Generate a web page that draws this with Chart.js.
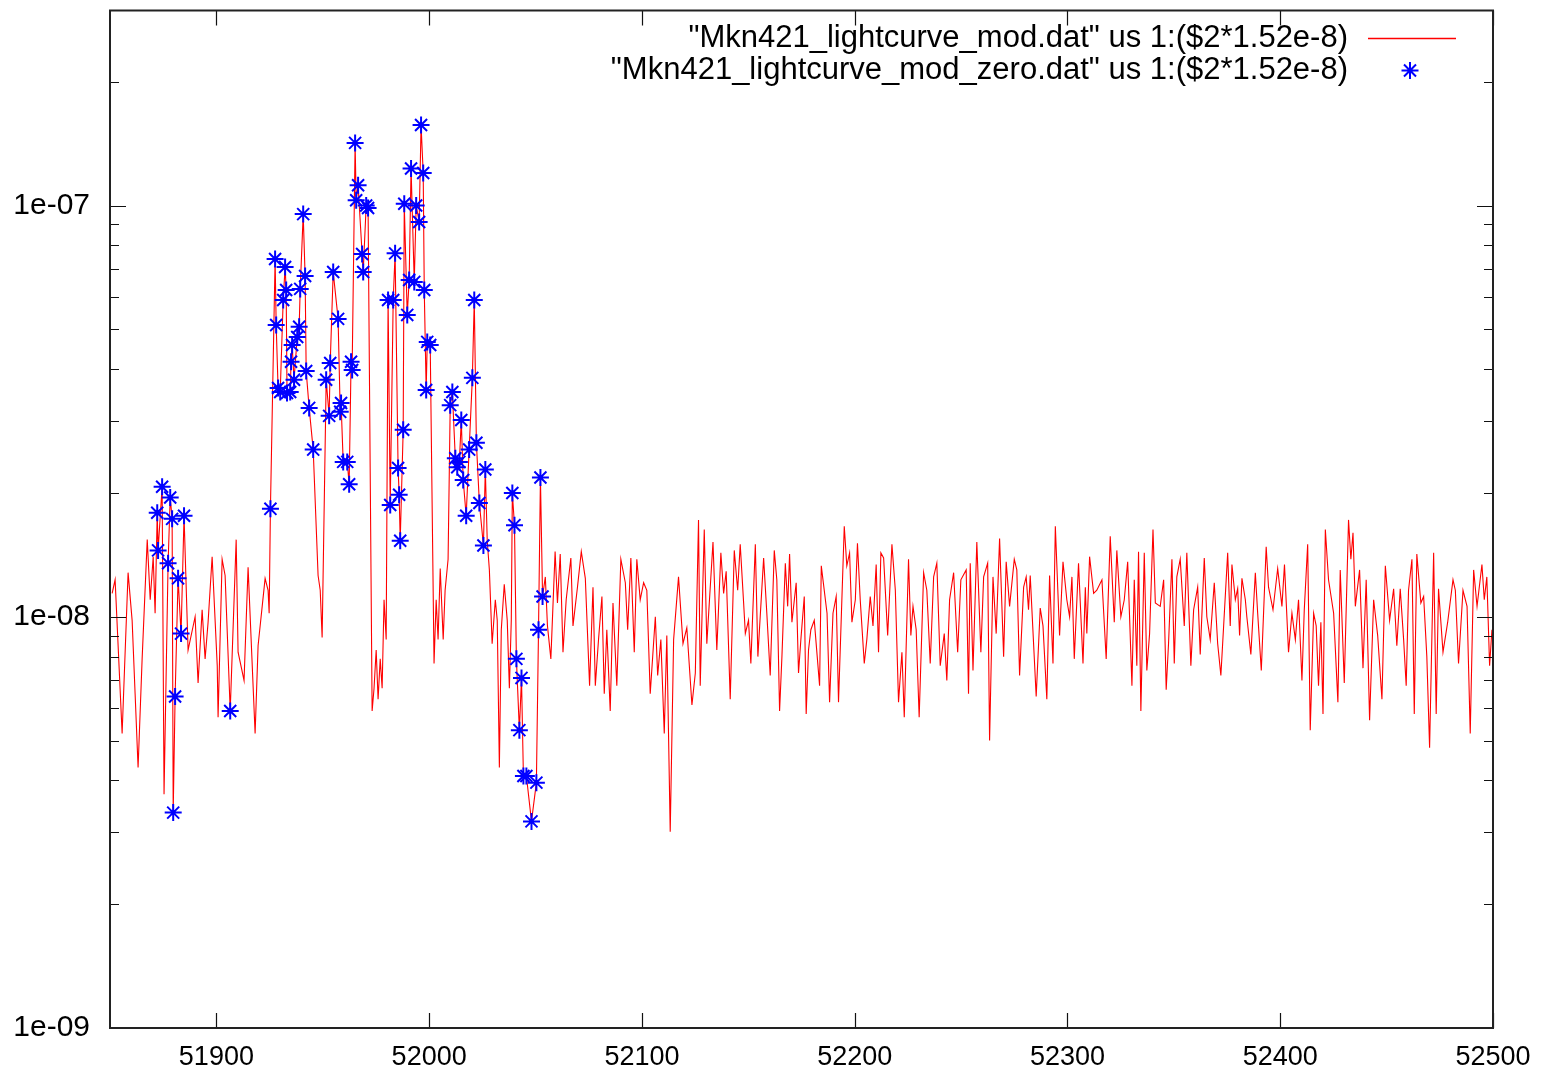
<!DOCTYPE html>
<html>
<head>
<meta charset="utf-8">
<script src="https://cdn.jsdelivr.net/npm/chart.js@4.4.1/dist/chart.umd.min.js"></script>
<style>
  html, body { margin: 0; padding: 0; background: #fff; }
</style>
</head>
<body>
<canvas id="lightcurve" width="1557" height="1077"></canvas>
<script>
// flux values are in units of 1e-8 (the plot is $2*1.52e-8)
const FLUX_UNIT = 1e-8;

// [MJD, flux] before the big flare
const curveEarly = [
  [51851.0,1.14],[51852.4,1.23],[51855.7,0.52],[51858.5,1.28],[51860.4,0.98],[51861.8,0.65],[51863.2,0.43],
  [51865.1,0.79],[51867.5,1.54],[51868.9,1.10],[51870.3,1.40],[51871.2,1.02],[51872.2,1.79],[51872.6,1.45],
  [51874.5,2.07],[51875.4,0.37],[51877.3,1.35],[51878.3,1.95],[51879.2,1.73],[51879.7,0.334],[51880.6,0.64],
  [51882.0,1.24],[51883.4,0.91],[51884.8,1.76],[51886.7,0.83],[51890.0,1.00],[51891.4,0.69],[51893.3,1.04],
  [51894.7,0.79],[51896.1,0.97],[51898.0,1.40],[51900.4,0.76],[51900.8,0.57],[51902.7,1.38],[51904.1,1.26],
  [51906.5,0.59],[51909.3,1.54],[51910.2,0.82],[51913.0,0.70],[51914.9,1.32],[51918.2,0.52],[51919.6,0.85],
  [51922.9,1.24],[51924.3,1.16],[51924.8,1.02]
];

// the flare itself
const curveFlare = [
  [51925.4,1.83],[51927.6,7.41],[51928.1,5.12],[51929.0,3.60],[51930.0,3.52],[51931.4,5.89],[51932.3,7.09],
  [51932.8,6.23],[51933.2,3.50],[51934.7,3.52],[51935.1,4.17],[51935.6,4.58],[51936.5,3.77],[51938.0,4.79],
  [51938.9,5.07],[51939.4,6.27],[51940.8,9.53],[51941.7,6.74],[51942.2,3.96],[51943.6,3.22],[51945.5,2.55],
  [51947.8,1.26],[51948.8,1.16],[51949.7,0.89],[51951.6,3.77],[51953.0,3.08],[51953.5,4.14],[51954.9,6.89],
  [51957.2,5.30],[51958.2,3.15],[51958.6,3.31],[51959.6,2.38],[51961.5,2.38],[51962.4,2.10],[51963.3,4.17],
  [51963.8,3.98],[51965.2,14.2],[51965.7,10.3],[51966.6,11.2],[51968.5,7.62],[51969.0,6.89],[51970.4,10.0],
  [51971.3,9.86],[51973.2,0.59],[51974.1,0.67],[51975.1,0.83],[51976.0,0.63],[51977.0,0.79],[51977.9,0.67],
  [51978.8,1.10],[51979.8,0.88],[51980.7,5.89],[51981.7,1.87],[51983.1,5.89],[51984.0,7.65],[51985.4,2.30],
  [51985.9,1.98],[51986.4,1.53],[51987.8,2.85],[51988.3,10.1],[51989.7,5.42],[51990.6,6.59],[51991.5,12.3],
  [51993.0,6.52],[51993.9,10.0],[51995.3,9.12],[51996.2,15.7],[51997.2,12.0],[51997.7,6.23],[51998.6,3.56],
  [51999.1,4.66],[52000.5,4.58],[52002.3,0.77],[52003.3,1.10],[52004.2,0.88],[52005.2,1.31],[52006.6,0.88],
  [52007.5,1.16],[52008.9,1.38],[52009.9,3.27],[52010.9,3.52],[52012.3,2.43],[52013.2,2.31],[52014.2,2.38],
  [52015.1,3.01],[52016.0,2.15],[52017.4,1.76],[52018.8,2.55],[52020.3,3.81],[52021.2,5.89],[52022.2,2.65],
  [52023.6,1.89],[52025.5,1.49],[52026.4,2.28],[52027.3,1.53],[52028.3,1.30],[52029.6,0.86],[52031.1,1.10],
  [52032.0,0.98],[52033.0,0.43],[52033.9,0.93],[52035.3,1.20],[52036.7,0.98],[52037.7,0.67],[52038.6,0.98],
  [52039.1,2.00],[52040.1,1.67],[52041.0,0.79],[52042.4,0.53],[52043.4,0.71],[52044.3,0.41],[52045.7,0.41],
  [52048.1,0.318],[52050.4,0.395],[52051.4,0.93],[52052.3,2.18],[52053.3,1.12]
];

// quiescent part after the flare
const curveQuiet = [
  [52054.6,1.25],[52055.6,0.95],[52057.2,0.79],[52059.2,1.44],[52060.3,1.08],[52061.6,1.42],[52062.9,0.82],
  [52064.4,1.10],[52066.6,1.39],[52067.6,0.95],[52069.7,1.18],[52071.5,1.44],[52073.4,1.24],[52075.4,0.68],
  [52077.0,1.18],[52078.1,0.68],[52079.6,0.88],[52081.2,1.12],[52082.3,0.65],[52083.5,0.93],[52085.1,0.59],
  [52086.4,1.08],[52088.2,0.68],[52090.1,1.38],[52092.2,1.21],[52093.3,0.93],[52094.8,1.39],[52096.4,0.82],
  [52097.6,1.38],[52099.2,1.10],[52100.8,1.21],[52102.3,1.16],[52103.9,0.65],[52106.3,1.00],[52107.4,0.72],
  [52108.9,0.88],[52110.5,0.52],[52111.7,0.90],[52113.3,0.30],[52114.9,0.88],[52117.2,1.25],[52119.3,0.86],
  [52121.1,0.94],[52123.5,0.61],[52125.1,0.73],[52126.6,1.72],[52127.4,0.68],[52129.3,1.63],[52130.5,0.86],
  [52133.4,1.52],[52135.2,0.83],[52137.1,1.43],[52138.4,1.14],[52139.6,1.29],[52141.5,0.63],[52143.4,1.45],
  [52145.0,1.16],[52146.2,1.50],[52147.8,1.08],[52148.6,0.91],[52150.1,0.98],[52151.2,0.77],[52153.3,1.50],
  [52154.5,0.80],[52157.2,1.39],[52158.7,1.02],[52160.3,0.72],[52162.2,1.45],[52163.4,1.23],[52164.7,0.59],
  [52165.8,0.80],[52167.4,1.35],[52168.5,1.06],[52169.4,1.42],[52170.5,0.97],[52172.5,1.21],[52173.6,0.73],
  [52174.7,0.88],[52176.3,1.12],[52177.2,0.58],[52178.3,0.83],[52179.4,0.93],[52181.0,0.98],[52183.5,0.68],
  [52184.3,1.33],[52187.0,1.02],[52188.2,0.62],[52189.8,1.02],[52191.3,1.12],[52192.4,0.62],[52195.1,1.66],
  [52196.3,1.33],[52197.6,1.43],[52198.7,0.97],[52200.3,1.10],[52201.3,1.51],[52202.6,1.10],[52204.5,0.77],
  [52205.7,0.88],[52207.3,1.12],[52208.6,0.95],[52210.1,1.34],[52211.2,0.82],[52212.3,1.43],[52213.6,1.39],
  [52215.5,0.90],[52217.5,1.50],[52219.1,1.16],[52220.6,0.62],[52222.2,0.82],[52223.3,0.57],[52225.3,1.38],
  [52226.4,0.90],[52227.4,1.06],[52228.9,0.93],[52230.3,0.57],[52232.4,1.28],[52233.9,1.16],[52235.5,0.77],
  [52237.1,1.25],[52238.6,1.35],[52240.2,0.76],[52242.1,0.91],[52243.3,0.70],[52244.6,1.10],[52246.5,1.28],
  [52248.4,0.82],[52249.9,1.23],[52252.4,1.30],[52253.5,0.65],[52254.3,1.35],[52255.6,0.74],[52257.4,1.52],
  [52259.3,0.82],[52260.6,1.25],[52262.5,1.35],[52263.4,0.50],[52265.0,1.25],[52266.5,0.91],[52268.1,1.55],
  [52270.0,0.80],[52271.2,1.36],[52272.8,1.06],[52275.0,1.38],[52276.2,1.30],[52277.5,0.72],[52279.4,1.18],
  [52280.6,1.25],[52281.7,1.04],[52282.5,1.26],[52285.3,0.64],[52287.2,1.05],[52288.5,0.95],[52290.3,0.63],
  [52291.6,1.26],[52293.2,0.77],[52294.3,1.66],[52296.3,0.90],[52297.9,1.36],[52299.7,1.10],[52301.0,1.00],
  [52302.1,1.25],[52303.2,0.79],[52305.2,1.35],[52307.3,0.77],[52308.4,1.18],[52309.1,0.91],[52310.4,1.40],
  [52312.3,1.14],[52313.8,1.16],[52316.2,1.23],[52318.2,0.79],[52320.1,1.57],[52322.0,0.97],[52323.2,1.45],
  [52325.1,1.00],[52326.7,1.10],[52328.3,1.36],[52330.3,0.68],[52331.4,1.23],[52332.6,0.76],[52333.4,1.44],
  [52334.5,0.59],[52336.1,1.43],[52337.3,0.74],[52338.6,0.91],[52340.2,1.63],[52341.3,1.08],[52343.6,1.06],
  [52345.2,1.23],[52346.4,0.665],[52347.5,0.86],[52349.1,1.38],[52350.2,0.77],[52351.4,1.25],[52353.0,1.38],
  [52354.9,0.95],[52356.1,1.43],[52358.0,0.76],[52359.3,1.04],[52361.2,1.18],[52362.4,0.81],[52364.3,1.39],
  [52365.5,1.00],[52367.1,0.88],[52369.0,1.21],[52370.6,0.86],[52372.1,0.72],[52373.4,0.95],[52375.3,1.43],
  [52376.5,0.95],[52377.3,1.34],[52378.9,1.10],[52380.0,1.17],[52380.9,0.90],[52382.0,1.24],[52383.6,1.10],
  [52384.3,1.00],[52386.2,0.81],[52388.3,1.28],[52389.4,1.02],[52391.1,0.74],[52393.4,1.48],[52394.5,1.18],
  [52396.6,1.04],[52398.8,1.31],[52400.8,1.06],[52402.0,1.34],[52403.9,0.82],[52405.5,1.02],[52407.1,0.88],
  [52408.6,1.10],[52410.2,0.70],[52411.3,1.04],[52412.9,1.50],[52414.1,0.53],[52415.7,1.02],[52416.9,0.95],
  [52418.0,0.68],[52419.1,0.97],[52420.1,0.58],[52421.2,1.63],[52422.7,1.23],[52425.1,1.02],[52427.1,0.62],
  [52428.2,1.30],[52430.1,0.69],[52432.1,1.72],[52433.2,1.38],[52434.2,1.60],[52435.3,1.06],[52437.3,1.30],
  [52438.9,0.75],[52440.4,1.23],[52442.0,0.56],[52443.9,1.10],[52445.8,0.90],[52447.8,0.63],[52449.4,1.33],
  [52451.4,0.98],[52453.3,1.17],[52454.8,0.85],[52456.4,1.17],[52458.0,0.88],[52459.2,0.68],[52460.3,1.16],
  [52461.9,1.38],[52463.0,0.58],[52464.2,1.42],[52466.1,1.08],[52467.4,1.12],[52468.9,0.80],[52470.2,0.48],
  [52472.1,1.43],[52473.3,0.58],[52474.4,1.17],[52476.5,0.82],[52478.7,0.97],[52481.2,1.23],[52482.3,1.16],
  [52483.8,0.77],[52485.9,1.16],[52487.8,1.06],[52489.3,0.52],[52490.9,1.30],[52492.5,1.06],[52494.8,1.34],
  [52495.9,1.10],[52497.1,1.25],[52498.4,0.76],[52499.5,0.93]
];

// points of the "_zero" file (drawn as stars)
const zeroPoints = [
  [51872.2,1.79],[51872.6,1.45],[51874.5,2.07],[51877.3,1.35],[51878.3,1.95],[51879.2,1.73],[51879.7,0.334],
  [51880.6,0.64],[51882.0,1.24],[51883.4,0.91],[51884.8,1.76],[51906.5,0.59],
  [51925.4,1.83],[51927.6,7.41],[51928.1,5.12],[51929.0,3.60],[51930.0,3.52],[51931.4,5.89],[51932.3,7.09],
  [51932.8,6.23],[51933.2,3.50],[51934.7,3.52],[51935.1,4.17],[51935.6,4.58],[51936.5,3.77],[51938.0,4.79],
  [51938.9,5.07],[51939.4,6.27],[51940.8,9.53],[51941.7,6.74],[51942.2,3.96],[51943.6,3.22],[51945.5,2.55],
  [51951.6,3.77],[51953.0,3.08],[51953.5,4.14],[51954.9,6.89],[51957.2,5.30],[51958.2,3.15],[51958.6,3.31],
  [51959.6,2.38],[51961.5,2.38],[51962.4,2.10],[51963.3,4.17],[51963.8,3.98],[51965.2,14.2],[51965.7,10.3],
  [51966.6,11.2],[51968.5,7.62],[51969.0,6.89],[51970.4,10.0],[51971.3,9.86],
  [51980.7,5.89],[51981.7,1.87],[51983.1,5.89],[51984.0,7.65],[51985.4,2.30],[51985.9,1.98],[51986.4,1.53],
  [51987.8,2.85],[51988.3,10.1],[51989.7,5.42],[51990.6,6.59],[51991.5,12.3],[51993.0,6.52],[51993.9,10.0],
  [51995.3,9.12],[51996.2,15.7],[51997.2,12.0],[51997.7,6.23],[51998.6,3.56],[51999.1,4.66],[52000.5,4.58],
  [52009.9,3.27],[52010.9,3.52],[52012.3,2.43],[52013.2,2.31],[52014.2,2.38],[52015.1,3.01],[52016.0,2.15],
  [52017.4,1.76],[52018.8,2.55],[52020.3,3.81],[52021.2,5.89],[52022.2,2.65],[52023.6,1.89],[52025.5,1.49],
  [52026.4,2.28],[52039.1,2.00],[52040.1,1.67],[52041.0,0.79],[52042.4,0.53],[52043.4,0.71],[52044.3,0.41],
  [52045.7,0.41],[52048.1,0.318],[52050.4,0.395],[52051.4,0.93],[52052.3,2.18],[52053.3,1.12]
];

const xTicks = [51900, 52000, 52100, 52200, 52300, 52400, 52500];
const yMajor = [1e-9, 1e-8, 1e-7];
const yMajorLabels = ['1e-09', '1e-08', '1e-07'];
const yMantissas = [1, 2, 3, 4, 5, 6, 7, 8, 9];
const X_MIN = 51850, X_MAX = 52500;
const Y_MIN = 1e-9, Y_MAX = 2.98e-7;

const labelFont = 'Arial, "Liberation Sans", sans-serif';
const LINE_RED = '#ff0000';
const STAR_BLUE = '#0000ff';

const toXY = pts => pts.map(([mjd, f]) => ({ x: mjd, y: f * FLUX_UNIT }));

// all log ticks (1..9 per decade) inside the range
const yTicks = [];
yMajor.forEach(m => yMantissas.forEach(k => {
  const v = k * m;
  if (v <= Y_MAX * 1.0001) yTicks.push(v);
}));
const majorIndex = v => yMajor.findIndex(m => Math.abs(v / m - 1) < 1e-6);

// inward tick marks on all four sides plus the frame
const gnuFrame = {
  id: 'gnuFrame',
  afterDatasetsDraw(chart) {
    const { ctx, chartArea: a, scales: { x, y } } = chart;
    ctx.save();
    ctx.strokeStyle = '#111';
    ctx.lineWidth = 1.2;
    ctx.beginPath();
    xTicks.forEach(v => {
      const p = Math.round(x.getPixelForValue(v)) + 0.5;
      ctx.moveTo(p, a.bottom); ctx.lineTo(p, a.bottom - 15);
      ctx.moveTo(p, a.top); ctx.lineTo(p, a.top + 15);
    });
    yTicks.forEach(v => {
      const p = Math.round(y.getPixelForValue(v)) + 0.5;
      const len = majorIndex(v) >= 0 ? 16 : 9;
      ctx.moveTo(a.left, p); ctx.lineTo(a.left + len, p);
      ctx.moveTo(a.right, p); ctx.lineTo(a.right - len, p);
    });
    ctx.stroke();
    ctx.lineWidth = 2;
    ctx.strokeStyle = '#222';
    ctx.strokeRect(a.left, a.top, a.right - a.left, a.bottom - a.top);
    ctx.restore();
  }
};

// gnuplot style key: text right-aligned, sample on its right
const gnuKey = {
  id: 'gnuKey',
  afterDraw(chart) {
    const { ctx, chartArea: a } = chart;
    ctx.save();
    ctx.font = '31px ' + labelFont;
    ctx.textAlign = 'right';
    ctx.textBaseline = 'middle';
    chart.data.datasets.forEach((ds, i) => {
      const rowY = Math.round(a.top + 27 + i * 32) + 0.5;
      ctx.fillStyle = '#000';
      ctx.fillText(ds.label, a.right - 145, rowY);
      if (ds.showLine) {
        ctx.strokeStyle = LINE_RED;
        ctx.lineWidth = 1.6;
        ctx.beginPath();
        ctx.moveTo(a.right - 125, rowY);
        ctx.lineTo(a.right - 37, rowY);
        ctx.stroke();
      } else {
        ctx.strokeStyle = STAR_BLUE;
        ctx.fillStyle = STAR_BLUE;
        ctx.lineWidth = ds.borderWidth;
        Chart.helpers.drawPoint(ctx, { pointStyle: 'star', radius: ds.pointRadius, rotation: 0, borderWidth: ds.borderWidth }, a.right - 83, rowY);
      }
    });
    ctx.restore();
  }
};

new Chart(document.getElementById('lightcurve').getContext('2d'), {
  type: 'scatter',
  data: {
    datasets: [
      {
        label: '"Mkn421_lightcurve_mod.dat" us 1:($2*1.52e-8)',
        data: toXY(curveEarly.concat(curveFlare, curveQuiet)),
        showLine: true,
        borderColor: LINE_RED,
        borderWidth: 1.1,
        pointRadius: 0,
        tension: 0,
        order: 1
      },
      {
        label: '"Mkn421_lightcurve_mod_zero.dat" us 1:($2*1.52e-8)',
        data: toXY(zeroPoints),
        showLine: false,
        pointStyle: 'star',
        pointRadius: 8.5,
        borderColor: STAR_BLUE,
        backgroundColor: STAR_BLUE,
        borderWidth: 2,
        order: 0
      }
    ]
  },
  options: {
    responsive: false,
    animation: false,
    devicePixelRatio: 1,
    layout: { padding: { top: 10, right: 64, left: 0, bottom: 0 } },
    plugins: { legend: { display: false }, tooltip: { enabled: false } },
    scales: {
      x: {
        type: 'linear',
        min: X_MIN,
        max: X_MAX,
        grid: { display: false, drawTicks: false, tickLength: 0 },
        border: { display: false },
        afterBuildTicks: s => { s.ticks = xTicks.map(v => ({ value: v })); },
        afterFit: s => { s.height = 49; s.paddingLeft = 0; s.paddingRight = 0; },
        ticks: {
          autoSkip: false, maxRotation: 0, padding: 13, color: '#000',
          font: { family: labelFont, size: 27 },
          callback: v => String(v)
        }
      },
      y: {
        type: 'logarithmic',
        min: Y_MIN,
        max: Y_MAX,
        grid: { display: false, drawTicks: false, tickLength: 0 },
        border: { display: false },
        afterBuildTicks: s => { s.ticks = yTicks.map(v => ({ value: v })); },
        afterFit: s => { s.width = 110; s.paddingTop = 0; s.paddingBottom = 0; },
        ticks: {
          autoSkip: false, padding: 20, color: '#000',
          font: { family: labelFont, size: 30 },
          callback: v => {
            const i = majorIndex(v);
            return i >= 0 ? yMajorLabels[i] : '';
          }
        }
      }
    }
  },
  plugins: [gnuFrame, gnuKey]
});
</script>
</body>
</html>
